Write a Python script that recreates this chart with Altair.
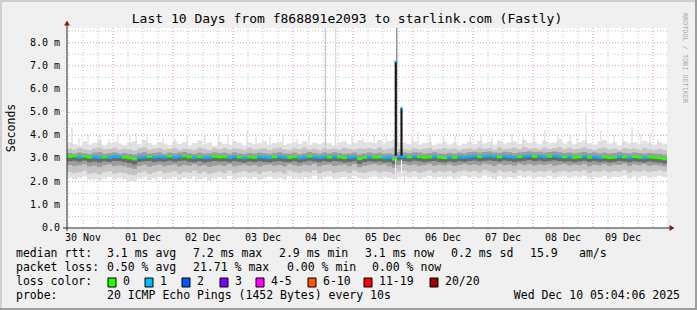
import altair as alt
import pandas as pd

MONO = "DejaVu Sans Mono"

TITLE = "Last 10 Days from f868891e2093 to starlink.com (Fastly)"
DAY_LABELS = ["30 Nov", "01 Dec", "02 Dec", "03 Dec", "04 Dec",
              "05 Dec", "06 Dec", "07 Dec", "08 Dec", "09 Dec"]
LABEL_HOURS = [12, 36, 60, 84, 108, 132, 156, 180, 204, 228]   # noon of each day (hours since 30 Nov 00:00)
Y_TICKS = [0, 1, 2, 3, 4, 5, 6, 7, 8]
Y_LABELS = ["0.0", "1.0 m", "2.0 m", "3.0 m", "4.0 m", "5.0 m", "6.0 m", "7.0 m", "8.0 m"]
X0, X1 = 5.6, 245.6        # visible time window (hours)
Y_MAX = 8.63               # ms
BIN_H = 2                  # hours per smoke column

# median rtt per 2-hour column (ms)
MEDIAN = [3.08,3.10,3.06,3.09,3.05,3.07,3.03,3.06,3.04,3.08,3.07,3.05,3.02,2.97,3.04,3.06,3.08,3.05,3.07,3.06,
          3.09,3.05,3.08,3.10,3.06,3.04,3.07,3.03,3.05,3.08,3.06,3.07,3.04,3.08,3.05,3.02,3.06,3.04,3.07,3.05,
          3.03,3.06,3.08,3.05,3.04,3.07,3.02,3.05,3.09,3.06,3.04,3.07,3.05,3.08,3.06,3.03,3.05,3.07,2.98,3.04,
          3.07,3.05,3.06,3.03,3.04,2.96,3.10,3.08,3.06,3.09,3.07,3.04,3.06,3.08,3.05,3.03,3.06,3.04,3.07,3.05,
          3.08,3.10,3.07,3.09,3.11,3.08,3.06,3.10,3.08,3.05,3.07,3.09,3.12,3.08,3.10,3.07,3.09,3.11,3.08,3.06,
          3.07,3.04,3.06,3.09,3.05,3.07,3.04,3.06,3.03,3.05,3.08,3.06,3.04,3.07,3.05,3.03,3.06,3.04,3.02,2.98]
# lost pings per column (0 or 1)
LOSS = [0,0,1,0,0,1,1,0,1,1, 1,0,0,0,1,1,0,1,1,1, 0,1,1,0,0,1,0,1,1,0, 0,0,1,1,0,1,0,0,1,1,
        1,0,1,1,0,0,1,1,0,1, 1,1,0,1,0,0,1,1,0,0, 1,0,0,1,1,0,1,1,0,1, 0,0,0,1,0,0,1,0,1,1,
        1,1,0,1,1,1,0,1,1,1, 0,1,1,0,1,1,0,1,1,0, 1,0,0,1,0,1,1,0,0,0, 1,0,1,0,0,1,0,0,0,0]
# smoke: ping distribution per column (ms)
P_MAX = [3.70,3.62,3.55,3.74,3.60,3.68,3.78,3.58,3.66,3.72,3.64,3.57,3.69,3.75,3.62,3.80,3.66,3.60,3.71,3.65,
         3.58,3.74,3.63,3.70,3.56,3.66,3.78,3.61,3.69,3.55,3.73,3.64,3.60,3.76,3.68,3.57,3.70,3.62,3.66,3.74,
         3.60,3.67,3.72,3.58,3.64,3.70,3.62,3.75,3.59,3.68,3.63,3.71,3.66,3.57,3.69,3.74,3.61,3.67,3.78,3.70,
         3.72,3.66,3.80,3.64,3.75,3.82,3.70,3.68,3.62,3.74,3.60,3.67,3.71,3.58,3.65,3.73,3.61,3.68,3.56,3.64,
         3.70,3.62,3.76,3.66,3.72,3.60,3.78,3.65,3.70,3.74,3.63,3.80,3.68,3.72,3.61,3.76,3.66,3.70,3.82,3.64,
         3.75,3.62,3.70,3.78,3.66,3.60,3.72,3.80,3.64,3.69,3.58,3.74,3.66,3.70,3.62,3.76,3.68,3.60,3.72,3.64]
P90 = [3.42,3.38,3.45,3.40,3.36,3.44,3.47,3.39,3.41,3.46,3.37,3.43,3.40,3.35,3.44,3.48,3.39,3.42,3.45,3.38,
       3.41,3.46,3.37,3.43,3.40,3.38,3.47,3.42,3.36,3.44,3.40,3.45,3.38,3.43,3.41,3.37,3.46,3.39,3.42,3.44,
       3.38,3.43,3.46,3.40,3.37,3.44,3.41,3.47,3.39,3.42,3.36,3.45,3.40,3.43,3.38,3.46,3.41,3.39,3.44,3.42,
       3.45,3.40,3.48,3.38,3.43,3.47,3.42,3.40,3.37,3.44,3.39,3.42,3.46,3.38,3.41,3.45,3.40,3.43,3.36,3.41,
       3.44,3.39,3.46,3.42,3.45,3.38,3.48,3.41,3.43,3.46,3.40,3.49,3.42,3.45,3.39,3.47,3.41,3.44,3.50,3.40,
       3.46,3.40,3.43,3.48,3.41,3.38,3.44,3.47,3.39,3.42,3.37,3.45,3.41,3.43,3.38,3.46,3.40,3.37,3.42,3.36]
P75 = [3.24,3.21,3.26,3.22,3.19,3.25,3.27,3.20,3.23,3.26,3.21,3.24,3.20,3.17,3.23,3.27,3.21,3.24,3.26,3.20,
       3.25,3.22,3.26,3.28,3.23,3.20,3.25,3.21,3.22,3.26,3.23,3.25,3.21,3.26,3.22,3.19,3.24,3.21,3.25,3.23,
       3.20,3.24,3.27,3.22,3.21,3.25,3.19,3.23,3.28,3.24,3.21,3.26,3.22,3.27,3.24,3.20,3.22,3.25,3.18,3.22,
       3.26,3.22,3.25,3.20,3.22,3.19,3.28,3.26,3.23,3.27,3.25,3.21,3.24,3.27,3.22,3.20,3.24,3.21,3.25,3.22,
       3.27,3.29,3.25,3.28,3.30,3.26,3.24,3.29,3.27,3.23,3.26,3.28,3.31,3.27,3.29,3.25,3.28,3.30,3.27,3.24,
       3.26,3.22,3.25,3.28,3.23,3.26,3.22,3.25,3.21,3.23,3.27,3.24,3.22,3.26,3.23,3.21,3.24,3.22,3.20,3.17]
P40 = [2.88,2.90,2.86,2.91,2.84,2.87,2.83,2.88,2.85,2.89,2.88,2.84,2.80,2.74,2.85,2.88,2.89,2.85,2.88,2.86,
       2.90,2.85,2.89,2.91,2.86,2.84,2.88,2.83,2.86,2.89,2.87,2.88,2.84,2.89,2.86,2.82,2.87,2.84,2.88,2.85,
       2.83,2.87,2.89,2.85,2.84,2.88,2.82,2.86,2.90,2.87,2.84,2.88,2.85,2.89,2.87,2.83,2.85,2.88,2.77,2.84,
       2.88,2.85,2.87,2.83,2.84,2.75,2.91,2.89,2.86,2.90,2.88,2.84,2.87,2.89,2.85,2.83,2.87,2.84,2.88,2.85,
       2.89,2.91,2.88,2.90,2.92,2.89,2.86,2.91,2.89,2.85,2.88,2.90,2.93,2.89,2.91,2.87,2.90,2.92,2.89,2.86,
       2.88,2.84,2.87,2.90,2.85,2.88,2.84,2.87,2.83,2.85,2.89,2.87,2.84,2.88,2.85,2.83,2.87,2.84,2.82,2.78]
P25 = [2.72,2.68,2.70,2.75,2.66,2.69,2.63,2.71,2.74,2.67,2.70,2.66,2.60,2.55,2.68,2.73,2.65,2.70,2.74,2.67,
       2.71,2.74,2.66,2.72,2.69,2.75,2.67,2.71,2.64,2.69,2.73,2.68,2.76,2.66,2.70,2.74,2.68,2.72,2.65,2.71,
       2.74,2.69,2.72,2.66,2.76,2.70,2.67,2.73,2.70,2.77,2.66,2.72,2.75,2.68,2.71,2.74,2.67,2.76,2.62,2.68,
       2.73,2.76,2.70,2.74,2.66,2.60,2.72,2.76,2.70,2.74,2.68,2.72,2.77,2.69,2.73,2.70,2.75,2.68,2.72,2.76,
       2.72,2.75,2.70,2.78,2.74,2.68,2.76,2.71,2.74,2.69,2.77,2.72,2.76,2.70,2.75,2.72,2.77,2.69,2.73,2.76,
       2.70,2.74,2.71,2.77,2.67,2.73,2.70,2.76,2.69,2.74,2.72,2.78,2.68,2.75,2.71,2.76,2.69,2.73,2.70,2.66]
P10 = [2.42,2.36,2.40,2.47,2.34,2.38,2.32,2.41,2.45,2.35,2.40,2.37,2.30,2.28,2.39,2.44,2.33,2.40,2.46,2.36,
       2.40,2.45,2.35,2.42,2.38,2.47,2.36,2.43,2.33,2.39,2.44,2.37,2.48,2.35,2.41,2.46,2.38,2.43,2.34,2.42,
       2.46,2.39,2.43,2.35,2.48,2.41,2.37,2.44,2.40,2.49,2.36,2.43,2.47,2.38,2.42,2.45,2.37,2.48,2.40,2.38,
       2.44,2.47,2.40,2.45,2.41,2.34,2.44,2.48,2.40,2.46,2.38,2.43,2.49,2.39,2.45,2.41,2.47,2.38,2.44,2.48,
       2.42,2.46,2.39,2.50,2.44,2.37,2.48,2.41,2.45,2.38,2.49,2.43,2.47,2.40,2.46,2.42,2.48,2.39,2.44,2.47,
       2.41,2.46,2.43,2.49,2.38,2.45,2.42,2.48,2.40,2.46,2.44,2.50,2.39,2.47,2.43,2.48,2.41,2.45,2.49,2.44]
P_MIN = [2.18,2.10,2.15,2.22,2.08,2.12,2.05,2.14,2.20,2.09,2.16,2.11,2.02,2.00,2.13,2.19,2.07,2.15,2.21,2.10,
         2.14,2.20,2.08,2.16,2.12,2.22,2.10,2.17,2.05,2.13,2.19,2.11,2.24,2.09,2.15,2.20,2.12,2.18,2.08,2.16,
         2.21,2.13,2.17,2.09,2.23,2.15,2.11,2.19,2.14,2.25,2.10,2.18,2.22,2.13,2.16,2.20,2.11,2.24,2.15,2.12,
         2.18,2.22,2.14,2.20,2.16,2.10,2.19,2.23,2.15,2.21,2.12,2.18,2.25,2.14,2.20,2.16,2.22,2.13,2.19,2.24,
         2.17,2.21,2.14,2.26,2.19,2.12,2.23,2.16,2.20,2.13,2.25,2.18,2.22,2.15,2.21,2.17,2.24,2.14,2.19,2.23,
         2.16,2.22,2.18,2.25,2.13,2.20,2.17,2.24,2.15,2.21,2.19,2.26,2.14,2.22,2.18,2.23,2.16,2.20,2.25,2.19]

# thin outlier pings above the smoke (hour, top ms)
SPIKE_HOURS = [7.6, 10.4, 14.0, 18.8, 22.4, 26.0, 30.8, 33.2, 37.6, 44.0, 48.8, 53.6, 60.8, 66.4, 70.0,
               77.6, 81.2, 86.8, 92.0, 97.6, 102.4, 119.6, 124.0, 128.4, 133.2, 143.6, 146.0, 150.8, 156.4,
               160.8, 166.8, 171.2, 175.6, 183.6, 188.0, 192.4, 196.8, 202.0, 206.8, 209.6, 213.2, 219.2,
               224.4, 228.0, 231.6, 235.2, 238.8, 242.0]
SPIKE_TOPS = [4.33, 3.90, 4.05, 4.00, 3.85, 4.05, 3.95, 4.10, 3.95, 3.90, 3.85, 4.00, 4.00, 3.95, 4.05,
              4.20, 3.90, 3.95, 4.05, 3.85, 3.95, 4.00, 3.90, 4.00, 4.10, 3.95, 4.15, 4.05, 3.90,
              4.00, 3.95, 4.05, 3.90, 4.10, 3.95, 4.15, 4.25, 4.00, 4.05, 3.90, 4.97, 4.20,
              4.00, 3.90, 4.35, 4.05, 4.10, 3.85]
# thin outlier pings below the smoke (hour, bottom ms)
LOW_HOURS = [16.4, 41.2, 57.2, 100.0, 140.6, 177.2, 215.6, 233.6]
LOW_BOTTOMS = [1.98, 2.00, 1.95, 2.02, 1.98, 2.05, 2.00, 1.97]
# off-scale outliers (hour)
TALL_HOURS = [109.0, 113.0, 137.5]
TALL_SHADES = ["#c8c8c8", "#dedede", "#8a8a8a"]
# median jumps on 05 Dec (hour, top ms)
JUMP_HOURS = [137.1, 139.4]
JUMP_TOPS = [7.18, 5.17]
JUMP_BASE = 3.12

LOSS_LABELS = ["0", "1", "2", "3", "4-5", "6-10", "11-19", "20/20"]
LOSS_COLORS = ["#26ff00", "#00b8ff", "#0059ff", "#7e00ff", "#ff00ff", "#ff5500", "#ff0000", "#a10000"]

LINE1 = ["median rtt:", "3.1 ms avg", "7.2 ms max", "2.9 ms min", "3.1 ms now", "0.2 ms sd", "15.9", "am/s"]
LINE2 = ["packet loss:", "0.50 % avg", "21.71 % max", "0.00 % min", "0.00 % now"]
LINE4 = ["probe:", "20 ICMP Echo Pings (1452 Bytes) every 10s"]
STAMP = "Wed Dec 10 05:04:06 2025"

n = len(MEDIAN)
bins = pd.DataFrame({
    "t0": [X0 + BIN_H * i for i in range(n)],
    "t1": [X0 + BIN_H * (i + 1) for i in range(n)],
    "mn": P_MIN, "p10": P10, "p25": P25, "p40": P40, "med": MEDIAN,
    "p75": P75, "p90": P90, "mx": P_MAX,
    "lc": [LOSS_COLORS[v] for v in LOSS],
})

XS = alt.Scale(domain=[X0, X1], nice=False, zero=False)
YS = alt.Scale(domain=[0, Y_MAX], nice=False, zero=False)


def X(f):
    return alt.X(f, type="quantitative", scale=XS, axis=None)


def Y(f):
    return alt.Y(f, type="quantitative", scale=YS, axis=None)


def YD(v):
    return alt.Y(datum=v, scale=YS, axis=None)


layers = []

# ---- grid (behind smoke)
minor_v = pd.DataFrame({"t": [h for h in range(6, 246, 6) if h % 24 != 0]})
major_v = pd.DataFrame({"t": list(range(24, 246, 24))})
minor_h = pd.DataFrame({"v": [k + 0.5 for k in range(9)]})
major_h = pd.DataFrame({"v": list(range(1, 9))})
GRID_GRAY = "#c4c4c4"
GRID_RED = "#e79c9c"
layers.append(alt.Chart(minor_v).mark_rule(color=GRID_GRAY, strokeDash=[1, 2], strokeWidth=1)
              .encode(x=X("t")))
layers.append(alt.Chart(minor_h).mark_rule(color=GRID_GRAY, strokeDash=[1, 2], strokeWidth=1)
              .encode(y=Y("v")))
layers.append(alt.Chart(major_v).mark_rule(color=GRID_RED, strokeDash=[1, 2], strokeWidth=1)
              .encode(x=X("t")))
layers.append(alt.Chart(major_h).mark_rule(color=GRID_RED, strokeDash=[1, 2], strokeWidth=1)
              .encode(y=Y("v")))

# ---- smoke
layers.append(alt.Chart(bins).mark_rect(color="#e1e1e1")
              .encode(x=X("t0"), x2="t1", y=Y("mn"), y2="mx"))
spikes = pd.DataFrame({"t": SPIKE_HOURS, "top": SPIKE_TOPS})
layers.append(alt.Chart(spikes).mark_rule(color="#d6d6d6", strokeWidth=1)
              .encode(x=X("t"), y=Y("top"), y2=alt.datum(3.5)))
lows = pd.DataFrame({"t": LOW_HOURS, "bot": LOW_BOTTOMS})
layers.append(alt.Chart(lows).mark_rule(color="#dadada", strokeWidth=1)
              .encode(x=X("t"), y=Y("bot"), y2=alt.datum(2.3)))
tall = pd.DataFrame({"t": TALL_HOURS, "c": TALL_SHADES})
layers.append(alt.Chart(tall).mark_rule(strokeWidth=1.3)
              .encode(x=X("t"), y=YD(Y_MAX), y2=alt.datum(3.5), color=alt.Color("c:N", scale=None)))
layers.append(alt.Chart(bins).mark_rect(color="#c4c4c4")
              .encode(x=X("t0"), x2="t1", y=Y("p10"), y2="p90"))
layers.append(alt.Chart(bins).mark_rect(color="#9c9c9c")
              .encode(x=X("t0"), x2="t1", y=Y("p25"), y2="p75"))
layers.append(alt.Chart(bins).mark_rect(color="#6a6a6a")
              .encode(x=X("t0"), x2="t1", y=Y("p40"), y2="med"))

# ---- median line coloured by loss
layers.append(alt.Chart(bins).mark_rule(strokeWidth=2.5, strokeCap="butt")
              .encode(x=X("t0"), x2="t1", y=Y("med"), color=alt.Color("lc:N", scale=None)))

# ---- jumps on 05 Dec
jumps = pd.DataFrame({"t": JUMP_HOURS, "top": JUMP_TOPS})
layers.append(alt.Chart(jumps).mark_rule(color="#1a1a1a", strokeWidth=2.2)
              .encode(x=X("t"), y=Y("top"), y2=alt.datum(JUMP_BASE)))
layers.append(alt.Chart(jumps).mark_rule(color="#ffffff", strokeWidth=1)
              .encode(x=X("t"), y=YD(2.95), y2=alt.datum(2.35)))
layers.append(alt.Chart(jumps).mark_tick(color="#00b8ff", thickness=2.5, size=3, orient="horizontal")
              .encode(x=X("t"), y=Y("top")))

# ---- axis labels
xl = pd.DataFrame({"t": LABEL_HOURS, "s": DAY_LABELS})
layers.append(alt.Chart(xl).mark_text(font=MONO, fontSize=10, color="#000", baseline="middle")
              .encode(x=X("t"), y=alt.value(210), text="s:N"))
yl = pd.DataFrame({"v": Y_TICKS, "s": Y_LABELS})
layers.append(alt.Chart(yl).mark_text(font=MONO, fontSize=10, color="#000", align="right", baseline="middle")
              .encode(y=Y("v"), x=alt.value(-7), text="s:N"))


def one():
    return pd.DataFrame({"k": [0]})


def rule(x, y, x2, y2, color, w=1):
    return alt.Chart(one()).mark_rule(color=color, strokeWidth=w).encode(
        x=alt.value(x), y=alt.value(y), x2=alt.value(x2), y2=alt.value(y2))


def txt(s, px, py, size=11.5, align="left", angle=0, color="#000"):
    return alt.Chart(pd.DataFrame({"s": [s]})).mark_text(
        font=MONO, fontSize=size, align=align, baseline="middle", angle=angle, color=color
    ).encode(x=alt.value(px), y=alt.value(py), text="s:N")


# ---- axis lines and arrows
AXIS = "#2c2c2c"
ARROW = "#8b1a1a"
layers.append(rule(0, 203, 0, -4, AXIS))
layers.append(rule(-4, 200, 603, 200, AXIS))
layers.append(alt.Chart(one()).mark_point(shape="triangle-up", filled=True, size=34, color=ARROW, opacity=1)
              .encode(x=alt.value(0), y=alt.value(-5)))
layers.append(alt.Chart(one()).mark_point(shape="triangle-right", filled=True, size=34, color=ARROW, opacity=1)
              .encode(x=alt.value(605), y=alt.value(200)))

# ---- frame (rrdtool shading)
layers.append(rule(-67, -27, 630, -27, "#cfcfcf", 2))
layers.append(rule(-66, -28, -66, 282, "#cfcfcf", 2))
layers.append(rule(629, -28, 629, 282, "#9e9e9e", 2))
layers.append(rule(-67, 281, 630, 281, "#9e9e9e", 2))

# ---- texts
layers.append(txt(TITLE, 280, -9, size=13, align="center"))
layers.append(txt("Seconds", -55, 100, size=11.5, align="center", angle=270))
layers.append(txt("RRDTOOL / TOBI OETIKER", 618, -15, size=6.8, align="left", angle=90, color="#aaaaaa"))

L1_X = [-51, 40, 126, 212, 298, 384, 463, 512]
for s, px in zip(LINE1, L1_X):
    layers.append(txt(s, px, 226))
L2_X = [-51, 40, 126, 220, 305]
for s, px in zip(LINE2, L2_X):
    layers.append(txt(s, px, 240))
layers.append(txt("loss color:", -51, 254))
BOX_X = [41, 78, 115, 153, 189, 241, 297, 363]
for s, c, bx in zip(LOSS_LABELS, LOSS_COLORS, BOX_X):
    layers.append(alt.Chart(one()).mark_rect(fill=c, stroke="#000", strokeWidth=1)
                  .encode(x=alt.value(bx), x2=alt.value(bx + 8), y=alt.value(250), y2=alt.value(259)))
    layers.append(txt(s, bx + 15, 254))
layers.append(txt(LINE4[0], -51, 268))
layers.append(txt(LINE4[1], 40, 268))
layers.append(txt(STAMP, 613, 268, align="right"))

chart = alt.layer(*layers).properties(
    width=600, height=200,
    padding={"left": 67, "top": 28, "right": 30, "bottom": 82},
    autosize=alt.AutoSizeParams(type="none"),
    background="#f0f0f0",
).configure_view(fill="white", stroke=None)

chart.save("out.html", embed_options={"renderer": "svg", "actions": False})
